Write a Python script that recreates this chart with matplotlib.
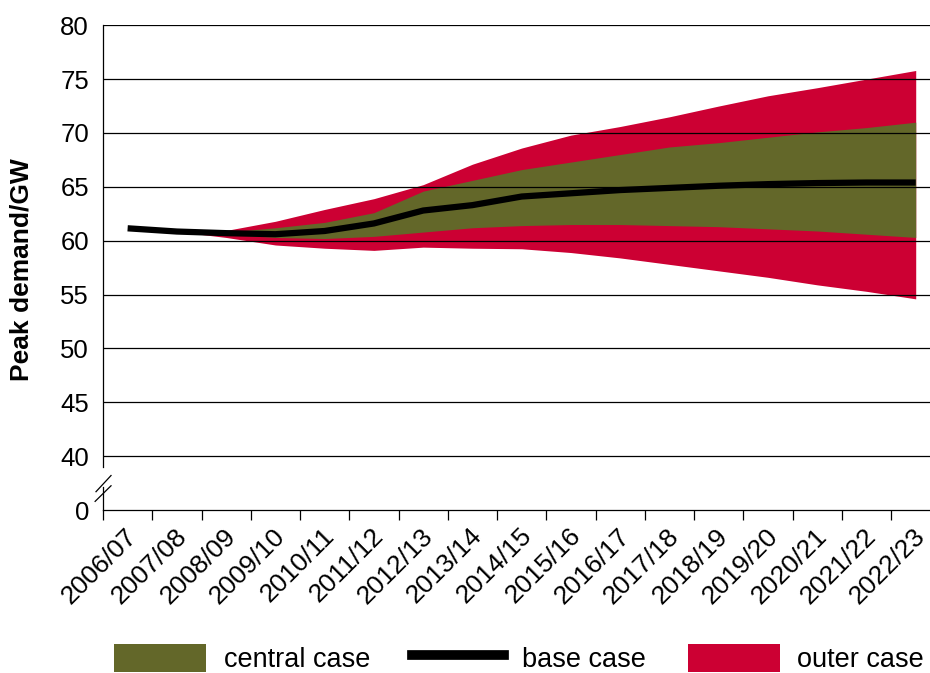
import numpy as np
import matplotlib
matplotlib.use('Agg')
import matplotlib.pyplot as plt
from matplotlib.patches import Patch
from matplotlib.lines import Line2D

plt.rcParams['font.family'] = ['Liberation Sans', 'DejaVu Sans']

years = ['2006/07', '2007/08', '2008/09', '2009/10', '2010/11', '2011/12',
         '2012/13', '2013/14', '2014/15', '2015/16', '2016/17', '2017/18',
         '2018/19', '2019/20', '2020/21', '2021/22', '2022/23']

# base case peak demand (GW)
base = [61.15, 60.85, 60.7, 60.6, 60.9, 61.6, 62.8, 63.3, 64.1, 64.4,
        64.7, 64.9, 65.1, 65.25, 65.35, 65.4, 65.4]

# bands start at 2007/08
central_hi = [60.85, 60.8, 61.2, 61.7, 62.6, 64.6, 65.6, 66.6, 67.3,
              68.0, 68.7, 69.1, 69.6, 70.1, 70.5, 71.0]
central_lo = [60.85, 60.6, 60.3, 60.2, 60.4, 60.8, 61.2, 61.4, 61.5,
              61.5, 61.4, 61.3, 61.1, 60.9, 60.6, 60.3]
outer_hi = [60.85, 60.95, 61.8, 62.9, 63.9, 65.2, 67.1, 68.6, 69.8,
            70.6, 71.5, 72.5, 73.45, 74.2, 75.0, 75.8]
outer_lo = [60.85, 60.3, 59.6, 59.3, 59.1, 59.4, 59.3, 59.25, 58.9,
            58.4, 57.8, 57.2, 56.6, 55.9, 55.3, 54.6]

green = '#636729'
red = '#cc0033'

fig = plt.figure(figsize=(9.3, 6.73), dpi=100)
ax = fig.add_axes([103/930, 1-510/673, 1-103/930, (510-24.7)/673])

x = np.arange(len(years))
xb = x[1:]

ax.fill_between(xb, outer_lo, outer_hi, color=red, lw=0, zorder=1)
ax.fill_between(xb, central_lo, central_hi, color=green, lw=0, zorder=1.5)
ax.plot(x, base, color='black', lw=4.5, zorder=3, solid_capstyle='butt')

ax.set_xlim(-0.5, 16.29)
ax.set_ylim(35, 80.05)

# horizontal grid lines
for v in range(40, 81, 5):
    ax.axhline(v, color='black', lw=0.9, zorder=2)

ax.set_yticks([35] + list(range(40, 81, 5)))
ax.set_yticklabels(['0'] + [str(v) for v in range(40, 81, 5)])
ax.tick_params(axis='y', length=0, pad=10, labelsize=18.5)

ax.set_xticks(np.arange(-0.5, 16, 1))
ax.set_xticklabels([])
ax.set_xticks(x + 0.22, minor=True)
ax.set_xticklabels(years, minor=True, rotation=45, ha='right', va='baseline',
                   rotation_mode='anchor', fontsize=19)
ax.tick_params(axis='x', which='major', direction='out', length=7.5, width=0.9)
ax.tick_params(axis='x', which='minor', length=0, pad=19.5)

for s in ['top', 'right']:
    ax.spines[s].set_visible(False)
ax.spines['bottom'].set_linewidth(0.9)
ax.spines['left'].set_linewidth(0.9)
ax.spines['left'].set_bounds(39.0, 80.05)

# axis break
ax.plot([-0.5, -0.5], [35, 37.1], color='black', lw=0.9, clip_on=False)
ax.plot([-0.642, -0.337], [36.7, 38.2], color='black', lw=0.9, clip_on=False)
ax.plot([-0.66, -0.337], [35.8, 37.25], color='black', lw=0.9, clip_on=False)

fig.text(22/930, 1-270/673, 'Peak demand/GW', rotation=90, fontsize=19,
         fontweight='bold', ha='center', va='center')

handles = [Patch(color=green, lw=0), Line2D([], [], color='black', lw=7),
           Patch(color=red, lw=0)]
fig.legend(handles, ['central case', 'base case', 'outer case'], ncol=3,
           loc='lower left', bbox_to_anchor=(114/930, 0), frameon=False,
           fontsize=19.5, handlelength=3.4, handleheight=1.2,
           handletextpad=0.65, columnspacing=1.55, borderpad=0,
           borderaxespad=0)

fig.savefig('out.png', dpi=100)
